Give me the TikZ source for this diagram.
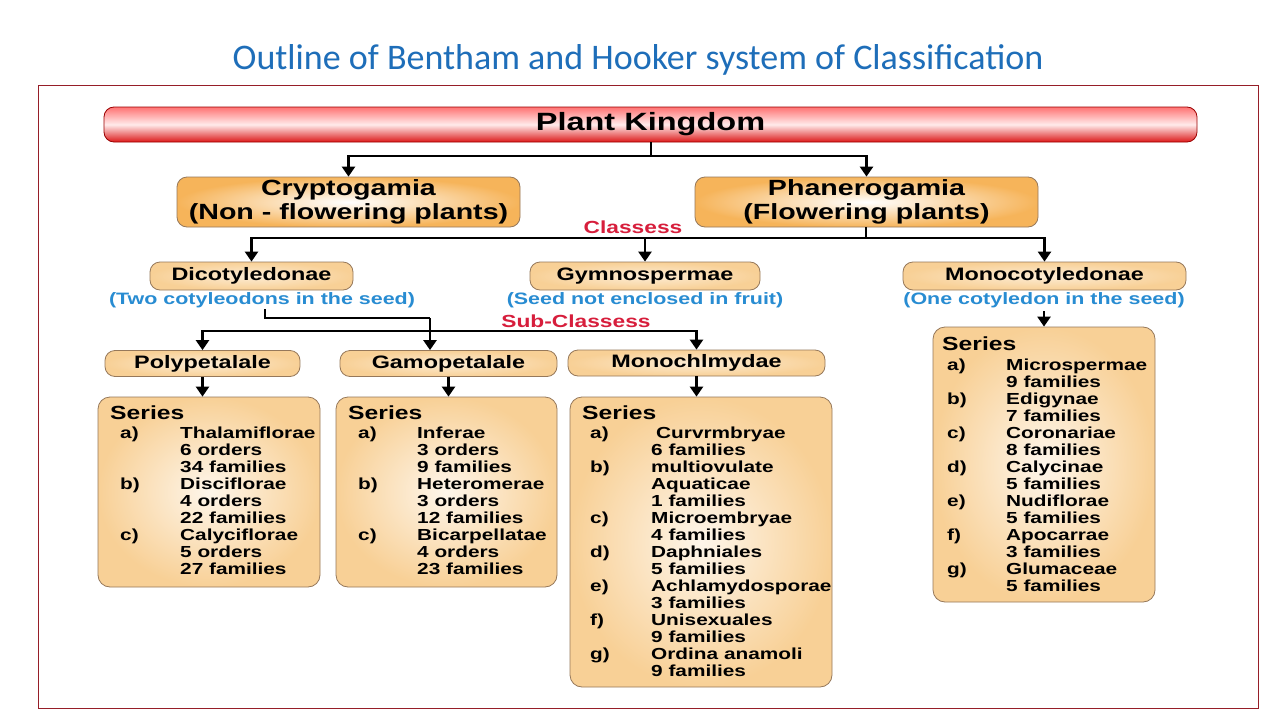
\documentclass[tikz,border=0pt]{standalone}
\usepackage{fontspec}
\setmainfont[FakeStretch=1.3]{Liberation Sans}
\newfontfamily\titlefont{Carlito}
\usetikzlibrary{arrows.meta,calc}
\definecolor{tblue}{RGB}{30,110,185}
\definecolor{sblue}{RGB}{40,140,210}
\definecolor{cred}{RGB}{215,30,60}
\definecolor{frame}{RGB}{150,30,40}
\definecolor{org}{RGB}{246,180,90}
\definecolor{lorg}{RGB}{248,208,150}
\definecolor{bord}{RGB}{150,120,90}
\begin{document}
\begin{tikzpicture}[x=1pt,y=-1pt,
  arr/.style={line width=2.8pt,-{Triangle[width=13pt,length=10pt]}},
  ln/.style={line width=2.8pt},
  big/.style={draw=bord,line width=0.8pt,rounded corners=10pt,inner color=white,outer color=org,font=\bfseries\fontsize{22}{24}\selectfont,align=center,inner sep=0pt},
  mid/.style={draw=bord,line width=0.8pt,rounded corners=10pt,inner color=lorg!40,outer color=lorg,font=\bfseries\fontsize{18}{20}\selectfont,inner sep=0pt},
  ser/.style={draw=bord,line width=0.8pt,rounded corners=12pt,inner color=white!80!lorg,outer color=lorg,inner sep=0pt},
  sub/.style={text=sblue,font=\bfseries\fontsize{16.5}{18}\selectfont},
  lbl/.style={text=cred,font=\bfseries\fontsize{17.5}{19}\selectfont},
  st/.style={anchor=base west,font=\bfseries\fontsize{16}{17}\selectfont,inner sep=0pt},
  hd/.style={anchor=base west,font=\bfseries\fontsize{19}{20}\selectfont,inner sep=0pt}]
\useasboundingbox (0,0) rectangle (1280,720);
\fill[white] (0,0) rectangle (1280,720);
\node[text=tblue,font=\titlefont\fontsize{36}{40}\selectfont] (title) at (638,60) {Outline of Bentham and Hooker system of Classification};
\draw[frame,line width=0.8pt] (38,85) rectangle (1258,708);
\node[draw=red!60!black,line width=0.8pt,rounded corners=10pt,top color=red!55!white,bottom color=red!85!black!90,middle color=red!8,minimum width=1093pt,minimum height=35pt,inner sep=0pt,font=\bfseries\fontsize{25}{28}\selectfont] (pk) at (650.5,124.5) {Plant Kingdom};
\node[big,minimum width=343pt,minimum height=50pt] (cry) at (348.5,202) {Cryptogamia\\(Non - flowering plants)};
\node[big,minimum width=343pt,minimum height=50pt] (phan) at (866.5,202) {Phanerogamia\\(Flowering plants)};
\coordinate (j1) at (651,156);
\draw[ln] (pk.south -| j1) -- (j1);
\draw[arr] (j1) -| (cry.north);
\draw[arr] (j1) -| (phan.north);
\node[mid,minimum width=203pt,minimum height=28pt] (dico) at (251.5,276) {Dicotyledonae};
\node[mid,minimum width=230pt,minimum height=28pt] (gym) at (645,276) {Gymnospermae};
\node[mid,minimum width=283pt,minimum height=28pt] (mono) at (1044.5,276) {Monocotyledonae};
\coordinate (j2) at (866,238);
\draw[ln] (phan.south -| j2) -- (j2);
\draw[arr] (j2) -| (dico.north);
\draw[arr] (j2) -| (gym.north);
\draw[arr] (j2) -| (mono.north);
\node[lbl] (cl) at (633,227) {Classess};
\node[sub] (ds) at (262,300) {(Two cotyleodons in the seed)};
\node[sub] (gs) at (645,300) {(Seed not enclosed in fruit)};
\node[sub] (ms) at (1044,300) {(One cotyledon in the seed)};
\node[mid,minimum width=195pt,minimum height=26pt] (poly) at (202.5,363.5) {Polypetalale};
\node[mid,minimum width=217pt,minimum height=26pt] (gamo) at (448.5,363.5) {Gamopetalale};
\node[mid,minimum width=257pt,minimum height=26pt] (moch) at (696.5,363) {Monochlmydae};
\node[lbl] (scl) at (576,321) {Sub-Classess};
\coordinate (d1) at (265,309);
\coordinate (d2) at (430,318);
\coordinate (j3) at (430,331);
\draw[ln] (d1) |- (d2);
\draw[arr] (d2) -- (gamo.north -| d2);
\draw[arr] (j3) -| (poly.north);
\draw[arr] (j3) -| (moch.north);
\node[ser,minimum width=222pt,minimum height=190pt] (s1) at (209,492) {};
\node[ser,minimum width=221pt,minimum height=190pt] (s2) at (446.5,492) {};
\node[ser,minimum width=262pt,minimum height=290pt] (s3) at (701,542) {};
\node[ser,minimum width=222pt,minimum height=275pt] (s4) at (1044,464.5) {};
\draw[arr] (poly.south) -- (s1.north -| poly.south);
\draw[arr] (gamo.south) -- (s2.north -| gamo.south);
\draw[arr] (moch.south) -- (s3.north -| moch.south);
\draw[arr] (ms.south -| s4.north) -- (s4.north);
\node[hd] (h1) at (110,419) {Series};
\foreach \i/\a/\t in {0/a)/Thalamiflorae,1//6 orders,2//34 families,3/b)/Disciflorae,4//4 orders,5//22 families,6/c)/Calyciflorae,7//5 orders,8//27 families}{
  \node[st] (s1a\i) at (120,{438+17*\i}) {\a};
  \node[st] (s1t\i) at (180,{438+17*\i}) {\t};}
\node[hd] (h2) at (348,419) {Series};
\foreach \i/\a/\t in {0/a)/Inferae,1//3 orders,2//9 families,3/b)/Heteromerae,4//3 orders,5//12 families,6/c)/Bicarpellatae,7//4 orders,8//23 families}{
  \node[st] (s2a\i) at (358,{438+17*\i}) {\a};
  \node[st] (s2t\i) at (417,{438+17*\i}) {\t};}
\node[hd] (h3) at (582,419) {Series};
\foreach \i/\a/\t in {0/a)/{\hspace{5pt}Curvrmbryae},1//6 families,2/b)/multiovulate,3//Aquaticae,4//1 families,5/c)/Microembryae,6//4 families,7/d)/Daphniales,8//5 families,9/e)/Achlamydosporae,10//3 families,11/f)/Unisexuales,12//9 families,13/g)/Ordina anamoli,14//9 families}{
  \node[st] (s3a\i) at (590,{438+17*\i}) {\a};
  \node[st] (s3t\i) at (651,{438+17*\i}) {\t};}
\node[hd] (h4) at (942,350) {Series};
\foreach \i/\a/\t in {0/a)/Microspermae,1//9 families,2/b)/Edigynae,3//7 families,4/c)/Coronariae,5//8 families,6/d)/Calycinae,7//5 families,8/e)/Nudiflorae,9//5 families,10/f)/Apocarrae,11//3 families,12/g)/Glumaceae,13//5 families}{
  \node[st] (s4a\i) at (947,{370+17*\i}) {\a};
  \node[st] (s4t\i) at (1006,{370+17*\i}) {\t};}
\end{tikzpicture}
\end{document}
